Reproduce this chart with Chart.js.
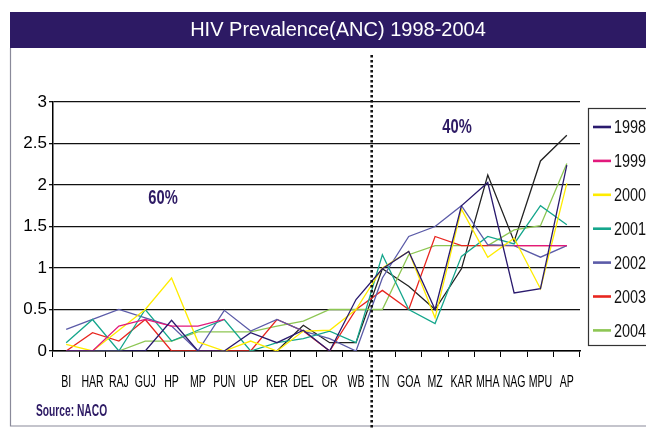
<!DOCTYPE html>
<html>
<head>
<meta charset="utf-8">
<title>HIV Prevalence(ANC) 1998-2004</title>
<script src="https://cdn.jsdelivr.net/npm/chart.js@4/dist/chart.umd.min.js"></script>
<style>
  html, body { margin: 0; padding: 0; background: #fff; }
  #wrap { position: relative; width: 646px; height: 428px; overflow: hidden; }
</style>
</head>
<body>
<div id="wrap"><canvas id="hivChart" width="646" height="428"></canvas></div>
<script>
// HIV prevalence among ANC attendees by state, 1998-2004

const states = ['BI', 'HAR', 'RAJ', 'GUJ', 'HP', 'MP', 'PUN', 'UP', 'KER', 'DEL', 'OR', 'WB',
                'TN', 'GOA', 'MZ', 'KAR', 'MHA', 'NAG', 'MPU', 'AP'];

const yearLabels = ['1998', '1999', '2000', '2001', '2002', '2003', '2004'];

const y1998 = [0, 0, 0, 0, 0.37, 0, 0, 0.22, 0.1, 0.25, 0, 0.62, 0.99, 1.2, 0.5, 1.75, 2.03, 0.7, 0.75, 2.24];
const y1999 = [0, 0, 0.3, 0.38, 0.3, 0.3, 0.38, null, null, null, null, null, null, null, null, null, null, 1.27, 1.27, 1.27];
const y2000 = [0.08, 0, 0.25, 0.5, 0.88, 0.11, 0, 0.12, 0, 0.24, 0.25, 0.5, 1.0, 1.2, 0.4, 1.71, 1.13, 1.36, 0.75, 2.02];
const y2001 = [0.1, 0.38, 0, 0.5, 0.12, 0.25, 0.38, 0, 0.1, 0.15, 0.24, 0.1, 1.16, 0.5, 0.33, 1.14, 1.38, 1.29, 1.75, 1.52];
const y2002 = [0.26, 0.38, 0.5, 0.4, 0.3, 0, 0.49, 0.24, 0.38, 0.24, 0.15, 0, 0.88, 1.38, 1.5, 1.75, 1.28, 1.27, 1.13, 1.27];
const y2003 = [0, 0.22, 0.12, 0.38, 0, 0, 0, 0, 0.38, 0.24, 0, 0.5, 0.73, 0.5, 1.38, 1.27, 1.27, 1.27, 1.27, 1.27];
const y2004 = [0, 0, 0, 0.12, 0.12, 0.23, 0.23, 0.23, 0.3, 0.36, 0.5, 0.5, 0.5, 1.16, 1.27, 1.27, 1.27, 1.46, 1.51, 2.26];
// unlabelled black series in the original (no legend entry)
const yExtra = [null, null, null, null, null, null, null, null, 0, 0.31, 0.1, 0.1, 0.99, 0.78, 0.5, 0.99, 2.12, 1.32, 2.29, 2.6];

const yTicks = [0, 0.5, 1, 1.5, 2, 2.5, 3];

const seriesColors = ['#2a1a6e', '#e2197c', '#ffec00', '#15a68c', '#5b5ba8', '#e8261f', '#8dc653'];

const NAVY = '#2d1a64';
const SANS = "'Liberation Sans', Arial, sans-serif";

function buildDatasets() {
  const series = [y1998, y1999, y2000, y2001, y2002, y2003, y2004];
  const sets = series.map((data, i) => ({
    label: yearLabels[i],
    data,
    borderColor: seriesColors[i],
    backgroundColor: seriesColors[i],
    borderWidth: 1.3,
    pointRadius: 0,
    tension: 0,
    spanGaps: false,
    fill: false
  }));
  sets.push({ label: '', data: yExtra, borderColor: '#222', backgroundColor: '#222',
              borderWidth: 1.3, pointRadius: 0, tension: 0, fill: false });
  return sets;
}

// condensed-looking text: squeeze horizontally around the anchor point
function narrowText(c, text, x, y, squeeze) {
  c.save();
  c.translate(x, y);
  c.scale(squeeze, 1);
  c.fillText(text, 0, 0);
  c.restore();
}

// title bar, frame, divider, notes, category labels and the boxed legend
const decorPlugin = {
  id: 'decor',
  beforeDraw(chart) {
    const c = chart.ctx;
    c.save();
    c.fillStyle = '#fff';
    c.fillRect(0, 0, chart.width, chart.height);
    c.fillStyle = NAVY;
    c.fillRect(10, 12, chart.width - 10, 36);
    c.strokeStyle = '#8a8a9a';
    c.lineWidth = 1.2;
    c.beginPath();
    c.moveTo(10.5, 48); c.lineTo(10.5, 426); c.lineTo(chart.width, 426);
    c.stroke();
    c.fillStyle = '#fff';
    c.font = '20px ' + SANS;
    c.textAlign = 'center';
    c.textBaseline = 'middle';
    c.fillText('HIV Prevalence(ANC) 1998-2004', 338, 30);
    c.restore();
  },
  afterDraw(chart) {
    const c = chart.ctx;
    const x = chart.scales.x;
    const divX = (x.getPixelForValue(11) + x.getPixelForValue(12)) / 2 + 2.5;
    c.save();

    // category labels
    c.fillStyle = '#000';
    c.textAlign = 'center';
    c.textBaseline = 'middle';
    c.font = '16px ' + SANS;
    states.forEach((s, i) => narrowText(c, s, x.getPixelForValue(i), 383, 0.66));

    // dotted divider between WB and TN
    c.strokeStyle = '#111';
    c.lineWidth = 2.6;
    c.setLineDash([2.4, 2.6]);
    c.beginPath();
    c.moveTo(divX, 55); c.lineTo(divX, 428);
    c.stroke();
    c.setLineDash([]);

    c.fillStyle = NAVY;
    c.font = 'bold 21px ' + SANS;
    narrowText(c, '60%', 163, 198, 0.7);
    narrowText(c, '40%', 457, 127, 0.7);

    c.textAlign = 'left';
    c.font = 'bold 16px ' + SANS;
    narrowText(c, 'Source: NACO', 36, 412, 0.64);

    // legend box
    c.strokeStyle = '#333';
    c.lineWidth = 1.2;
    c.strokeRect(588.5, 108.5, 80, 237);
    c.font = '19px ' + SANS;
    c.fillStyle = '#111';
    chart.data.datasets.filter(d => d.label).forEach((d, i) => {
      const ly = 127 + i * 33.9;
      c.strokeStyle = d.borderColor;
      c.lineWidth = 2.6;
      c.beginPath();
      c.moveTo(593, ly); c.lineTo(611, ly);
      c.stroke();
      narrowText(c, d.label, 614, ly + 1, 0.76);
    });
    c.restore();
  }
};

function renderChart() {
  const ctx = document.getElementById('hivChart');
  return new Chart(ctx, {
    type: 'line',
    data: { labels: states, datasets: buildDatasets() },
    options: {
      responsive: false,
      animation: false,
      layout: { padding: { top: 102, right: 66, left: 0, bottom: 0 } },
      plugins: { legend: { display: false }, title: { display: false }, tooltip: { enabled: false } },
      scales: {
        x: {
          offset: true,
          grid: { display: true, drawOnChartArea: false, drawTicks: true, tickLength: 6, color: '#000', offset: true },
          border: { color: '#000', width: 1.5 },
          ticks: { display: false, autoSkip: false, maxRotation: 0 },
          afterFit: s => { s.height = 77; }
        },
        y: {
          min: 0,
          max: 3,
          afterBuildTicks: s => { s.ticks = yTicks.map(v => ({ value: v })); },
          grid: { color: '#111', lineWidth: 1.3, tickLength: 4 },
          border: { color: '#000', width: 1.5 },
          ticks: { color: '#000', padding: 2, font: { family: SANS, size: 17 }, callback: v => String(v) },
          afterFit: s => { s.width = 53; }
        }
      }
    },
    plugins: [decorPlugin]
  });
}

document.addEventListener('DOMContentLoaded', () => {
  renderChart();
});
</script>
</body>
</html>
